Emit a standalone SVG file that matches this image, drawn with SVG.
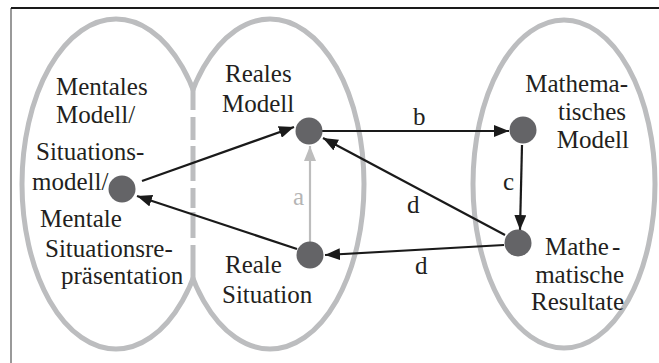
<svg xmlns="http://www.w3.org/2000/svg" width="659" height="363" viewBox="0 0 659 363">
<style>
.ring{fill:none;stroke:#bcbdbf;stroke-width:5}
.node{fill:#646467}
.t{font-family:"Liberation Serif","Times New Roman",serif;font-size:25px;fill:#231f20}
.lbl{font-family:"Liberation Serif","Times New Roman",serif;font-size:25px;fill:#231f20}
.arr{stroke:#1a1a1a;stroke-width:2.2;fill:none;marker-end:url(#ah)}
.arrg{stroke:#bdbdbd;stroke-width:2.2;fill:none;marker-end:url(#ahg)}
</style>
<defs>
<marker id="ah" markerUnits="userSpaceOnUse" markerWidth="16" markerHeight="12" refX="15" refY="6" orient="auto"><path d="M0,0 L15,6 L0,12 z" fill="#1a1a1a"/></marker>
<marker id="ahg" markerUnits="userSpaceOnUse" markerWidth="16" markerHeight="12" refX="15" refY="6" orient="auto"><path d="M0,0 L15,6 L0,12 z" fill="#bdbdbd"/></marker>
<clipPath id="cl"><rect x="0" y="0" width="193" height="363"/></clipPath>
<clipPath id="cr"><rect x="193" y="0" width="466" height="363"/></clipPath>
</defs>
<rect width="659" height="363" fill="#fff"/>
<path d="M11,363 V8" stroke="#555" stroke-width="1.2" fill="none"/>
<path d="M11,8 H659" stroke="#1a1a1a" stroke-width="1.8" fill="none"/>
<g id="regions">
<ellipse class="ring" cx="116" cy="184" rx="94" ry="165" clip-path="url(#cl)"/>
<ellipse class="ring" cx="270" cy="184" rx="94" ry="165" clip-path="url(#cr)"/>
<path class="ring" d="M193,88 V110 M193,117 V140 M193,146 V181 M193,188 V208 M193,212 V238 M193,245 V280"/>
<ellipse class="ring" cx="564" cy="184" rx="91" ry="164"/>
</g>
<g id="connectors">
<line class="arr" x1="142" y1="181" x2="294" y2="127"/>
<line class="arr" x1="297" y1="249" x2="137" y2="196"/>
<line class="arrg" x1="310" y1="242" x2="310" y2="146"/>
<line class="arr" x1="322" y1="131" x2="509" y2="131"/>
<line class="arr" x1="522" y1="145" x2="520" y2="230"/>
<line class="arr" x1="505" y1="235" x2="323" y2="138"/>
<line class="arr" x1="504" y1="245" x2="325" y2="255"/>
<text class="lbl" x="413" y="125">b</text>
<text class="lbl" x="503" y="190">c</text>
<text class="lbl" x="407" y="213">d</text>
<text class="lbl" x="415" y="274">d</text>
<text class="lbl" x="293" y="205" style="fill:#b5b5b5">a</text>
</g>
<g id="node-mental">
<circle class="node" cx="122" cy="189" r="13.5"/>
<text class="t" x="56" y="95">Mentales</text>
<text class="t" x="56" y="123">Modell/</text>
<text class="t" x="36" y="160">Situations-</text>
<text class="t" x="32" y="190">modell/</text>
<text class="t" x="40" y="227">Mentale</text>
<text class="t" x="45" y="257">Situationsre-</text>
<text class="t" x="61" y="284">präsentation</text>
</g>
<g id="node-reales-modell">
<circle class="node" cx="309" cy="131" r="13.5"/>
<text class="t" x="225" y="82">Reales</text>
<text class="t" x="222" y="112">Modell</text>
</g>
<g id="node-reale-situation">
<circle class="node" cx="310" cy="255" r="13.5"/>
<text class="t" x="225" y="273">Reale</text>
<text class="t" x="222" y="303">Situation</text>
</g>
<g id="node-math-modell">
<circle class="node" cx="523" cy="130" r="13.5"/>
<text class="t" x="628" y="92" text-anchor="end">Mathema-</text>
<text class="t" x="626" y="120" text-anchor="end">tisches</text>
<text class="t" x="629" y="148" text-anchor="end">Modell</text>
</g>
<g id="node-math-resultate">
<circle class="node" cx="518" cy="243" r="13.5"/>
<text class="t" x="545" y="255">Mathe<tspan dx="3">-</tspan></text>
<text class="t" x="624" y="283" text-anchor="end">matische</text>
<text class="t" x="624" y="310" text-anchor="end">Resultate</text>
</g>
</svg>
